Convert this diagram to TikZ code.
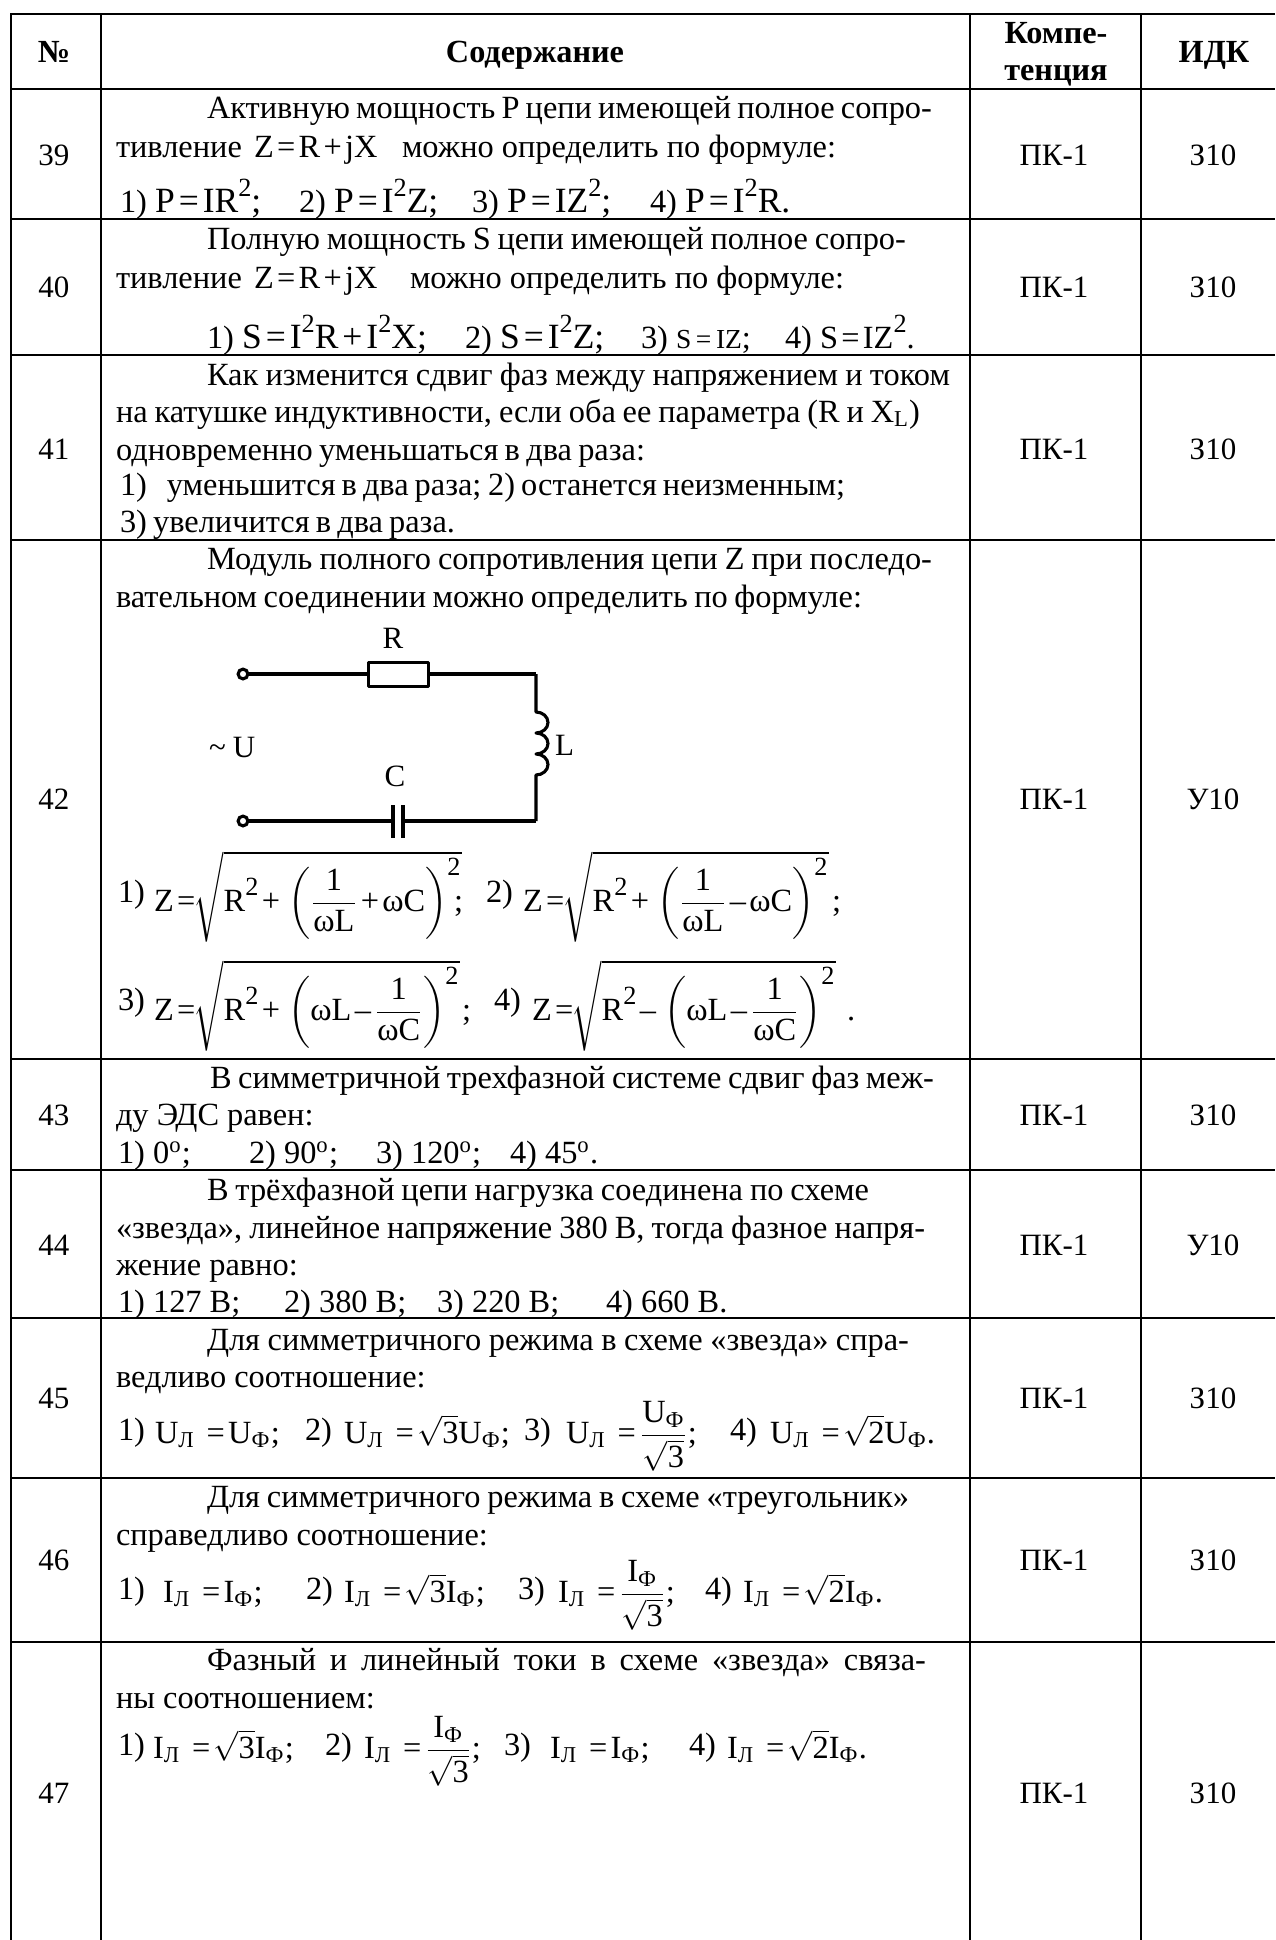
\documentclass[tikz,border=0pt]{standalone}
\usepackage{amsmath}
\usepackage{fontspec}
\setmainfont{Liberation Serif}
\setmathrm{Liberation Serif}
\tikzset{
  tt/.style={anchor=base west,inner sep=0pt,outer sep=0pt,font=\fontsize{12.95}{15}\selectfont},
  cc/.style={anchor=base,inner sep=0pt,outer sep=0pt,font=\fontsize{12.4}{14}\selectfont},
  hd/.style={anchor=base,inner sep=0pt,outer sep=0pt,font=\fontsize{12.9}{15}\selectfont\bfseries},
  thick rule/.style={line width=0.95pt},
  thin rule/.style={line width=0.85pt},
  wire/.style={line width=1.25pt,line join=round},
  wirethin/.style={line width=1.25pt,line join=round},
  term/.style={draw,circle,line width=1.25pt,minimum size=3.9pt,inner sep=0pt},
}
% justified line of given width (in reference pixels)
\newcommand{\jl}[2]{\makebox[#1\dimexpr 0.4pt\relax][s]{#2}}
\newcommand{\eqq}{\mskip2mu\text{=}\mskip2mu}
\newcommand{\pll}{\mskip2mu\text{+}\mskip2mu}
\newcommand{\mnn}{\mskip2mu\text{–}\mskip2mu}
\newcommand{\oo}{\text{ω}}
\newcommand{\Lsub}{_{\text{Л}}}
\newcommand{\Fsub}{_{\text{Ф}}}
\newcommand{\rr}[1]{\mathrm{#1}}
\newcommand{\tw}{\text{\raisebox{6.3pt}{\fontsize{10.5}{11}\selectfont 2}}}
\newcommand{\tws}{^{\text{\fontsize{10.5}{11}\selectfont 2}}}
\newcommand{\fb}{\fontsize{14.2}{16}\selectfont}
\begin{document}
\begin{tikzpicture}[x=0.4pt,y=-0.4pt]
\useasboundingbox (0,0) rectangle (1275,1940);
\fill[white] (0,0) rectangle (1275,1940);
% grid
\foreach \y in {14,89,219,355,540,1059,1170,1318,1478,1642} \draw[thick rule] (10,\y) -- (1275,\y);
\draw[thin rule] (11,14) -- (11,1940);
\foreach \x in {101,970,1141} \draw[thin rule] (\x,14) -- (\x,1940);
% header
\node[hd] (hn) at (54,62) {№};
\node[hd] (hc) at (535,62) {Содержание};
\node[hd] (hk1) at (1056,43) {Компе-};
\node[hd] (hk2) at (1056,80) {тенция};
\node[hd] (hi) at (1214,62) {ИДК};
% number / competence / indicator columns
\foreach \n/\y/\k/\c in {39/165/ПК-1/З10,40/297/ПК-1/З10,41/459/ПК-1/З10,42/809/ПК-1/У10,43/1125/ПК-1/З10,44/1255/ПК-1/У10,45/1408/ПК-1/З10,46/1570/ПК-1/З10,47/1803/ПК-1/З10}{
  \node[cc] (n\n) at (54,\y) {\n};
  \node[cc] (k\n) at (1054,\y) {\k};
  \node[cc] (c\n) at (1213,\y) {\c};
}
% row 39
\node[tt] (a1) at (207,118) {\jl{725}{Активную мощность P цепи имеющей полное сопро-}};
\node[tt] (a2) at (116,157) {тивление};
\node[tt] (a3) at (254,157) {$\rr{Z}\eqq\rr{R}\pll\rr{jX}$};
\node[tt] (a4) at (402,157) {можно определить по формуле:};
\node[tt] (a5) at (120,212) {1) {\fb$\rr{P}\eqq\rr{IR}\tw$;}};
\node[tt] (a6) at (299,212) {2) {\fb$\rr{P}\eqq\rr{I}\tw\rr{Z}$;}};
\node[tt] (a7) at (472,212) {3) {\fb$\rr{P}\eqq\rr{IZ}\tw$;}};
\node[tt] (a8) at (650,212) {4) {\fb$\rr{P}\eqq\rr{I}\tw\rr{R}$.}};
% row 40
\node[tt] (b1) at (207,249) {\jl{699}{Полную мощность S цепи имеющей полное сопро-}};
\node[tt] (b2) at (116,288) {тивление};
\node[tt] (b3) at (254,288) {$\rr{Z}\eqq\rr{R}\pll\rr{jX}$};
\node[tt] (b4) at (410,288) {можно определить по формуле:};
\node[tt] (b5) at (207,348) {1) {\fb$\rr{S}\eqq\rr{I}\tw\rr{R}\pll\rr{I}\tw\rr{X}$;}};
\node[tt] (b6) at (465,348) {2) {\fb$\rr{S}\eqq\rr{I}\tw\rr{Z}$;}};
\node[tt] (b7) at (641,348) {3) {\fontsize{11}{12}\selectfont S\,=\,IZ};};
\node[tt] (b8) at (785,348) {4) $\rr{S}\eqq\rr{IZ}\tw$.};
% row 41
\node[tt] (c1) at (207,385) {\jl{743}{Как изменится сдвиг фаз между напряжением и током}};
\node[tt] (c2) at (116,422) {\jl{804}{на катушке индуктивности, если оба ее параметра (R и X\textsubscript{L})}};
\node[tt] (c3) at (116,460) {\jl{529}{одновременно уменьшаться в два раза:}};
\node[tt] (c4) at (120,495) {\jl{725}{1)\hspace{8pt}уменьшится в два раза; 2) останется неизменным;}};
\node[tt] (c5) at (120,532) {\jl{335}{3) увеличится в два раза.}};
% row 42
\node[tt] (d1) at (207,569) {\jl{725}{Модуль полного сопротивления цепи Z при последо-}};
\node[tt] (d2) at (116,607) {\jl{746}{вательном соединении можно определить по формуле:}};
% circuit
\node[cc] (lr) at (393,648) {R};
\node[cc] (lc) at (395,786) {C};
\node[tt,font=\fontsize{12.4}{14}\selectfont] (ll) at (555,755) {L};
\node[tt,font=\fontsize{12.4}{14}\selectfont] (lu) at (209,757) {\makebox[9.6pt][l]{\textasciitilde}U};
\node[term] (t1) at (243,674) {};
\node[term] (t2) at (243,821) {};
\node[draw,wire,minimum width=23.7pt,minimum height=9.8pt,inner sep=0pt] (res) at (398.5,674.5) {};
\coordinate (tr) at (536,674);
\coordinate (br) at (536,821);
\coordinate (cl) at (393,821);
\coordinate (cr) at (403,821);
\draw[wire] (t1) -- (t1 -| res.west);
\draw[wire] (res.east |- tr) -- (tr);
\draw[wirethin] (tr) -- (536,712)
  arc[start angle=90,end angle=-90,x radius=12,y radius=-10.5]
  arc[start angle=90,end angle=-90,x radius=12,y radius=-10.5]
  arc[start angle=90,end angle=-90,x radius=12,y radius=-10.5]
  -- (br);
\draw[wire] (br) -- (cr);
\draw[wire] (t2) -- (cl);
\draw[wirethin] (393,805) -- (393,838);
\draw[wirethin] (403,805) -- (403,838);
% row 42 formulas
\node[tt] (f1) at (118,902) {1)};
\node[tt] (f2) at (154,911) {$\rr{Z}\eqq\mkern-3mu\sqrt{\rr{R}\tw\pll\left(\dfrac{\rr{1}}{\oo\rr{L}}\pll\oo\rr{C}\right)\tws}$};
\node[tt] (f3) at (454,911) {;};
\node[tt] (f4) at (486,902) {2)};
\node[tt] (f5) at (523,911) {$\rr{Z}\eqq\mkern-3mu\sqrt{\rr{R}\tw\pll\left(\dfrac{\rr{1}}{\oo\rr{L}}\mnn\oo\rr{C}\right)\tws}$};
\node[tt] (f6) at (832,911) {;};
\node[tt] (f7) at (118,1010) {3)};
\node[tt] (f8) at (154,1020) {$\rr{Z}\eqq\mkern-3mu\sqrt{\rr{R}\tw\pll\left(\oo\rr{L}\mnn\dfrac{\rr{1}}{\oo\rr{C}}\right)\tws}$};
\node[tt] (f9) at (462,1020) {;};
\node[tt] (f10) at (494,1010) {4)};
\node[tt] (f11) at (532,1020) {$\rr{Z}\eqq\mkern-3mu\sqrt{\rr{R}\tw\mnn\left(\oo\rr{L}\mnn\dfrac{\rr{1}}{\oo\rr{C}}\right)\tws}$};
\node[tt] (f12) at (847,1020) {.};
% row 43
\node[tt] (e1) at (210,1088) {\jl{724}{В симметричной трехфазной системе сдвиг фаз меж-}};
\node[tt] (e2) at (116,1125) {ду ЭДС равен:};
\node[tt] (e3) at (118,1163) {1) 0\textsuperscript{o};};
\node[tt] (e4) at (249,1163) {2) 90\textsuperscript{o};};
\node[tt] (e5) at (376,1163) {3) 120\textsuperscript{o};};
\node[tt] (e6) at (510,1163) {4) 45\textsuperscript{o}.};
% row 44
\node[tt] (g1) at (207,1200) {\jl{662}{В трёхфазной цепи нагрузка соединена по схеме}};
\node[tt] (g2) at (116,1238) {\jl{809}{«звезда», линейное напряжение 380 В, тогда фазное напря-}};
\node[tt] (g3) at (116,1275) {жение равно:};
\node[tt] (g4) at (118,1312) {1) 127 В;};
\node[tt] (g5) at (284,1312) {2) 380 В;};
\node[tt] (g6) at (437,1312) {3) 220 В;};
\node[tt] (g7) at (606,1312) {4) 660 В.};
% row 45
\node[tt] (h1) at (207,1350) {\jl{702}{Для симметричного режима в схеме «звезда» спра-}};
\node[tt] (h2) at (116,1387) {ведливо соотношение:};
\node[tt] (h3) at (118,1440) {1)};
\node[tt] (h4) at (155,1443) {$\rr{U}\Lsub\;\eqq\rr{U}\Fsub$;};
\node[tt] (h5) at (305,1440) {2)};
\node[tt] (h6) at (344,1443) {$\rr{U}\Lsub\;\eqq\sqrt{\rr{3}}\rr{U}\Fsub$;};
\node[tt] (h7) at (524,1440) {3)};
\node[tt] (h8) at (566,1443) {$\rr{U}\Lsub\;\eqq\dfrac{\rr{U}\Fsub}{\sqrt{\rr{3}}}$;};
\node[tt] (h9) at (730,1440) {4)};
\node[tt] (h10) at (770,1443) {$\rr{U}\Lsub\;\eqq\sqrt{\rr{2}}\rr{U}\Fsub$.};
% row 46
\node[tt] (i1) at (207,1507) {\jl{702}{Для симметричного режима в схеме «треугольник»}};
\node[tt] (i2) at (116,1545) {справедливо соотношение:};
\node[tt] (i3) at (118,1599) {1)};
\node[tt] (i4) at (163,1602) {$\rr{I}\Lsub\;\eqq\rr{I}\Fsub$;};
\node[tt] (i5) at (306,1599) {2)};
\node[tt] (i6) at (344,1602) {$\rr{I}\Lsub\;\eqq\sqrt{\rr{3}}\rr{I}\Fsub$;};
\node[tt] (i7) at (518,1599) {3)};
\node[tt] (i8) at (558,1602) {$\rr{I}\Lsub\;\eqq\dfrac{\rr{I}\Fsub}{\sqrt{\rr{3}}}$;};
\node[tt] (i9) at (705,1599) {4)};
\node[tt] (i10) at (743,1602) {$\rr{I}\Lsub\;\eqq\sqrt{\rr{2}}\rr{I}\Fsub$.};
% row 47
\node[tt] (j1) at (207,1670) {\jl{719}{Фазный и линейный токи в схеме «звезда» связа-}};
\node[tt] (j2) at (116,1708) {ны соотношением:};
\node[tt] (j3) at (118,1755) {1)};
\node[tt] (j4) at (153,1758) {$\rr{I}\Lsub\;\eqq\sqrt{\rr{3}}\rr{I}\Fsub$;};
\node[tt] (j5) at (325,1755) {2)};
\node[tt] (j6) at (364,1758) {$\rr{I}\Lsub\;\eqq\dfrac{\rr{I}\Fsub}{\sqrt{\rr{3}}}$;};
\node[tt] (j7) at (504,1755) {3)};
\node[tt] (j8) at (550,1758) {$\rr{I}\Lsub\;\eqq\rr{I}\Fsub$;};
\node[tt] (j9) at (689,1755) {4)};
\node[tt] (j10) at (727,1758) {$\rr{I}\Lsub\;\eqq\sqrt{\rr{2}}\rr{I}\Fsub$.};
\end{tikzpicture}
\end{document}
